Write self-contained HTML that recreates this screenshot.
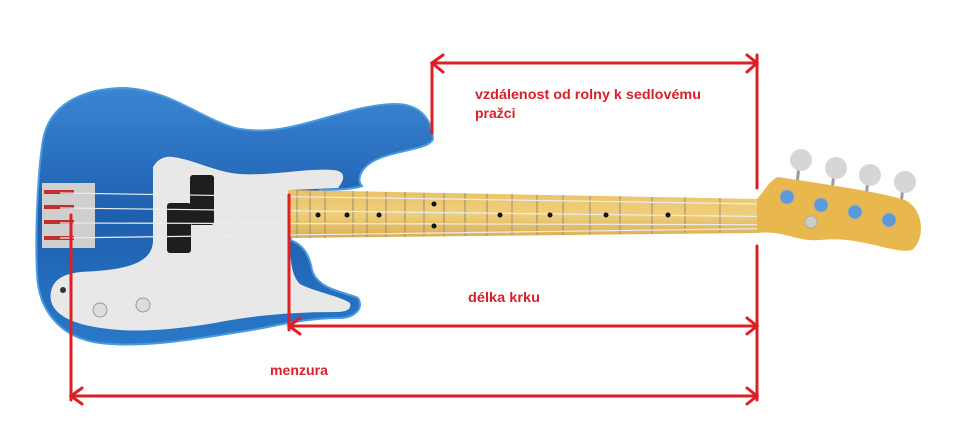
<!DOCTYPE html>
<html><head><meta charset="utf-8"><style>
html,body{margin:0;padding:0;background:#fff;}
svg{display:block;}
text{font-family:"Liberation Sans",sans-serif;font-weight:bold;fill:#d8212a;font-size:14px;}
</style></head><body>
<svg width="962" height="433" viewBox="0 0 962 433">
<defs>
<linearGradient id="bl" x1="0" y1="0" x2="0" y2="1">
<stop offset="0" stop-color="#3a86d2"/><stop offset="0.5" stop-color="#1d5fae"/><stop offset="1" stop-color="#2a78c8"/></linearGradient>
<linearGradient id="mp" x1="0" y1="0" x2="0" y2="1">
<stop offset="0" stop-color="#e9c26a"/><stop offset="0.5" stop-color="#f0cf7a"/><stop offset="1" stop-color="#d9ae55"/></linearGradient>
</defs>
<!-- body -->
<path d="M43,140 C50,100 90,88 125,88 C170,90 200,118 235,128 C290,140 340,105 395,104 C425,104 432,125 433,138 C433,148 400,150 380,158 C360,166 356,180 362,186 C350,190 330,190 320,190 L290,240 C305,245 310,258 312,270 C318,290 345,292 358,298 C365,310 352,318 340,318 C300,318 270,328 233,333 C190,340 140,348 100,343 C60,338 38,310 37,273 C35,230 38,170 43,140 Z" fill="url(#bl)" stroke="#4a9ae0" stroke-width="2"/>
<!-- pickguard -->
<path d="M153,167 C158,158 166,156 173,157 C195,160 215,172 240,174 C275,176 305,168 333,170 C345,171 346,178 338,188 L290,190 L290,240 C290,262 292,276 300,284 C315,292 340,296 350,303 C352,310 345,312 335,312 C290,312 250,316 215,323 C185,328 150,332 120,330 C95,328 80,325 66,318 C52,310 48,300 52,288 C56,278 65,274 80,272 C120,270 153,266 153,240 Z" fill="#e8e8e8"/>
<!-- bridge -->
<rect x="42" y="183" width="53" height="65" fill="#cfcfcf"/>
<rect x="44" y="190" width="30" height="4" fill="#c03030"/>
<rect x="44" y="205" width="30" height="4" fill="#c03030"/>
<rect x="44" y="220" width="30" height="4" fill="#c03030"/>
<rect x="44" y="236" width="30" height="4" fill="#c03030"/>
<!-- pickups -->
<rect x="190" y="175" width="24" height="50" rx="3" fill="#1e1e1e"/>
<rect x="167" y="203" width="24" height="50" rx="3" fill="#1e1e1e"/>
<circle cx="100" cy="310" r="7" fill="#ddd" stroke="#999"/>
<circle cx="143" cy="305" r="7" fill="#ddd" stroke="#999"/>
<circle cx="63" cy="290" r="3" fill="#333"/>
<!-- neck -->
<path d="M288,190 L757,199 L757,233 L288,238 Z" fill="url(#mp)"/>
<g stroke="#9a8a70" stroke-width="1">
<line x1="297" y1="190" x2="297" y2="238"/><line x1="310" y1="190" x2="310" y2="238"/><line x1="325" y1="191" x2="325" y2="238"/><line x1="353" y1="191" x2="353" y2="237"/><line x1="367" y1="191" x2="367" y2="237"/><line x1="386" y1="192" x2="386" y2="237"/><line x1="405" y1="192" x2="405" y2="237"/><line x1="424" y1="193" x2="424" y2="236"/><line x1="444" y1="193" x2="444" y2="236"/><line x1="465" y1="193" x2="465" y2="236"/><line x1="487" y1="194" x2="487" y2="236"/><line x1="512" y1="194" x2="512" y2="235"/><line x1="537" y1="195" x2="537" y2="235"/><line x1="563" y1="195" x2="563" y2="235"/><line x1="590" y1="196" x2="590" y2="234"/><line x1="620" y1="196" x2="620" y2="234"/><line x1="652" y1="197" x2="652" y2="234"/><line x1="685" y1="197" x2="685" y2="233"/><line x1="720" y1="198" x2="720" y2="233"/>
</g>
<g stroke="#ececec" stroke-width="1.2">
<line x1="60" y1="193" x2="890" y2="206"/><line x1="60" y1="208" x2="890" y2="218"/><line x1="60" y1="223" x2="890" y2="225"/><line x1="60" y1="238" x2="810" y2="228"/>
</g>
<g fill="#111"><circle cx="318" cy="215" r="2.5"/><circle cx="347" cy="215" r="2.5"/><circle cx="379" cy="215" r="2.5"/><circle cx="434" cy="204" r="2.5"/><circle cx="434" cy="226" r="2.5"/><circle cx="500" cy="215" r="2.5"/><circle cx="550" cy="215" r="2.5"/><circle cx="606" cy="215" r="2.5"/><circle cx="668" cy="215" r="2.5"/></g>
<!-- headstock -->
<g stroke="#999" stroke-width="3"><line x1="799" y1="165" x2="797" y2="185"/><line x1="834" y1="172" x2="832" y2="192"/><line x1="868" y1="179" x2="866" y2="198"/><line x1="903" y1="186" x2="901" y2="205"/></g>
<path d="M757,199 C765,190 770,180 778,177 C830,185 880,192 905,200 C925,210 925,240 912,250 C895,255 860,235 820,240 C795,242 785,230 757,233 Z" fill="#e8b84e"/>
<g fill="#d6d6d6"><circle cx="801" cy="160" r="11"/><circle cx="836" cy="168" r="11"/><circle cx="870" cy="175" r="11"/><circle cx="905" cy="182" r="11"/></g>
<g fill="#5a9ad8" stroke="#aaa"><circle cx="787" cy="197" r="7"/><circle cx="821" cy="205" r="7"/><circle cx="855" cy="212" r="7"/><circle cx="889" cy="220" r="7"/><circle cx="811" cy="222" r="6" fill="#ccc"/></g>
<!-- red annotations -->
<g stroke="#dd1f26" stroke-width="3" fill="none" stroke-linecap="round">
<line x1="432" y1="63" x2="757" y2="63"/><line x1="432" y1="63" x2="432" y2="133"/>
<polyline points="443,55 432,63 443,72"/><polyline points="747,55 757,63 747,72"/>
<line x1="757" y1="55" x2="757" y2="188"/><line x1="757" y1="246" x2="757" y2="400"/>
<line x1="289" y1="326" x2="757" y2="326"/><line x1="289" y1="195" x2="289" y2="330"/>
<polyline points="300,318 289,326 300,334"/><polyline points="747,318 757,326 747,334"/>
<line x1="71" y1="396" x2="757" y2="396"/><line x1="71" y1="215" x2="71" y2="400"/>
<polyline points="82,388 71,396 82,404"/><polyline points="747,388 757,396 747,404"/>
</g>
<text x="475" y="99" textLength="226" lengthAdjust="spacingAndGlyphs">vzdálenost od rolny k sedlovému</text>
<text x="475" y="118">pražci</text>
<text x="468" y="302" textLength="72" lengthAdjust="spacingAndGlyphs">délka krku</text>
<text x="270" y="375" textLength="58" lengthAdjust="spacingAndGlyphs">menzura</text>
</svg>
</body></html>
